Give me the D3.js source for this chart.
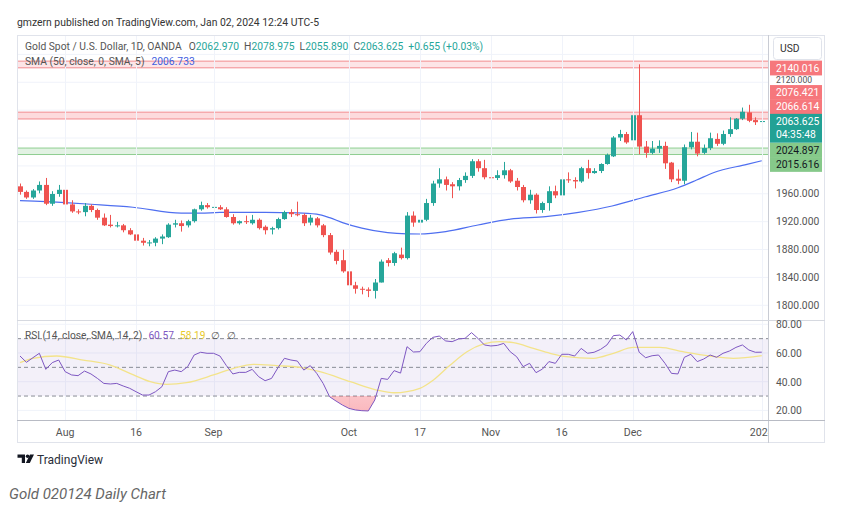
<!DOCTYPE html>
<html><head><meta charset="utf-8">
<script src="https://cdn.jsdelivr.net/npm/d3@7"></script>
<style>
body{margin:0;background:#fff;}
svg{display:block;font-family:Roboto,"Liberation Sans",sans-serif;}
</style>
</head><body>
<svg id="c" width="846" height="518"></svg>
<script>
// ---------- DATA ----------
const opens = [1970,1962,1954,1964,1972,1945,1959,1965,1944,1934,
1933,1942,1936,1925,1915,1913,1914,1907,1901,1892,
1889,1889,1895,1897,1915,1917,1914,1920,1937,1943,
1940,1940,1937,1926,1917,1920,1917,1922,1912,1908,
1910,1923,1933,1930,1929,1918,1924,1914,1900,1876,
1864,1848,1828,1823,1822,1820,1832,1864,1860,1872,
1867,1928,1918,1922,1946,1974,1980,1973,1970,1979,
1985,2006,1996,1983,1982,1986,1993,1978,1969,1950,
1958,1936,1946,1963,1957,1980,1979,1977,1996,1989,
1992,2002,2013,2040,2045,2036,2072,2027,2018,2024,
2028,2004,1981,1978,2026,2034,2018,2025,2038,2031,
2045,2052,2067,2076,2065,2062.970];
const highs = [1974,1964,1966,1977,1982,1963,1972,1968,1950,1937,
1946,1944,1938,1931,1929,1919,1916,1910,1903,1896,
1893,1897,1901,1917,1922,1921,1922,1938,1948,1946,
1952,1943,1940,1930,1921,1928,1929,1924,1914,1912,
1925,1935,1937,1948,1931,1929,1926,1916,1903,1879,
1879,1850,1833,1826,1825,1837,1865,1867,1876,1882,
1933,1934,1925,1952,1978,1996,1984,1976,1982,1990,
2009,2009,2008,1988,1993,2005,1995,1982,1972,1965,
1960,1948,1970,1971,1988,1990,1983,1998,2008,1996,
2003,2017,2042,2051,2048,2076,2145,2035,2035,2036,
2034,2005,1994,2030,2048,2047,2030,2047,2046,2050,
2069,2068,2083,2087,2069,2078.975];
const lows = [1958,1952,1952,1960,1943,1942,1955,1942,1932,1930,
1927,1933,1922,1913,1911,1911,1904,1900,1890,1885,
1884,1884,1887,1896,1911,1905,1911,1918,1935,1938,
1935,1936,1925,1915,1915,1916,1915,1908,1901,1901,
1908,1922,1926,1927,1913,1914,1911,1897,1872,1858,
1846,1827,1816,1815,1811,1809,1832,1855,1856,1865,
1865,1912,1912,1920,1942,1968,1964,1953,1964,1975,
1982,1991,1980,1970,1979,1981,1975,1964,1947,1945,
1931,1932,1935,1953,1955,1975,1967,1975,1981,1988,
1989,2001,2012,2035,2031,2030,2016,2011,2016,2018,
1995,1976,1973,1973,2023,2013,2016,2022,2028,2029,
2041,2051,2065,2062,2058,2055.890];
const closes = [1962,1954,1964,1972,1945,1959,1965,1944,1934,1933,
1942,1936,1925,1914,1913,1914,1907,1901,1892,1889,
1889.5,1895,1898,1915,1917,1913,1920,1937,1943,1940,
1940.5,1937,1926,1917,1920,1919,1922,1910,1907,1910,
1923,1933,1930,1929.5,1917,1925,1914,1900,1875,1863,
1848,1828,1823,1822,1820,1832,1862,1860,1874,1867,
1928,1918,1922,1946,1974,1980,1972,1970,1979,1985,
2006,1996,1983,1982,1986,1993,1977,1969,1950,1958,
1936,1946,1963,1957,1980,1979,1977,1996,1989,1992,
2002,2015,2040,2045,2033,2072,2027,2018,2024,2028,
2003,1980,1978,2026,2034,2017,2025,2039,2031,2045,
2052,2067,2077,2064,2062,2063.625];
const rsi = [57.9,53.5,56.7,59.8,48.6,53.3,55.1,47,44.7,44.2,
47.4,45.4,42.3,38.8,38.4,38.8,37,35.4,33,30.7,
30.7,33,36.5,47,48.1,47,50.5,58.6,60.5,59.8,
59.8,57.9,51.2,45.4,46.5,46.5,48.6,43.5,40.7,42.3,
49.8,56.3,55.1,54.4,48.1,51.2,45.8,38.8,29.5,26.5,
23.7,21.4,20.3,19.8,19.6,27.2,42.3,41.6,47.7,46,
64.4,60.7,60.9,66.7,70.9,71.8,68.4,67.9,69.8,70.2,
74.2,70.2,65.6,64.9,65.3,66.7,60.9,57.4,50.5,52.8,
46.3,48.8,54,52.8,59.1,59.1,57.9,63.2,59.8,60.5,
62.5,65.6,72.1,72.5,69.1,74.9,60.5,56.7,58.1,58.6,
52.8,45.8,45.4,57,59.1,54,55.8,58.6,57,59.8,
61.4,63.9,65.6,62.1,60.5,60.57];
// RSI-based MA, read at sample positions [bar index, value]
const rsiMaIdx = [0,2,5.7,9.8,14,17.6,20.2,22.7,25.8,30,33.1,36.2,39.8,43.4,46.5,51.2,55.3,58,62,64.1,66.7,69.3,71.9,74.4,76.5,79.6,82.2,84.7,88.9,92,95.1,99.2,102.8,107,110.6,115];
const rsiMaVal = [53.3,56.3,57.9,55.1,51.6,44.7,40,38.1,39.3,44.7,49.3,52.1,51.2,50,47,40,34.2,32.3,35.4,41.2,51.6,60.9,66.3,67.9,67.2,63.2,59.8,57.4,56.3,59.8,63.9,63.9,60.9,57.9,56.3,58.19];
// SMA 50 read at sample positions
const smaIdx = [0,7,11,17.5,25,28,31,38,43,46,48,50,53,57,60,62,66,71,76,81.5,86.6,91.8,97,102,104.9,107.5,112.7,115];
const smaVal = [1949.5,1946.6,1944.3,1940,1931.5,1931.5,1932.5,1932.5,1932,1930,1925,1918,1910,1903.5,1901.8,1901.6,1905,1914.5,1923,1926.5,1932.7,1941.8,1955,1968,1979,1989.5,2001.5,2006.733];
const priceTicks = [1800,1840,1880,1920,1960,2000,2040,2080,2120,2160];
const rsiTicks = [20,40,60,80];
const rsiBands = [70,50,30];
const timeTickIdx = [7,18,30,51,62,73,84,95,115];
const timeTickLbl = ["Aug","16","Sep","Oct","17","Nov","16","Dec","2024"];
const redBand1 = [2140.016,2149.6];
const redBand2 = [2076.421,2066.614];
const greenBand = [2024.897,2015.616];
const lastPrice = 2063.625;
const countdown = "04:35:48";

// ---------- LAYOUT ----------
const L=17, R=825, AX=768, T=35, PB=320, RB=420, B=443;
const svg = d3.select("#c");
const UP="#26a69a", DN="#ef5350", GRID="#f0f3fa", BORDER="#e0e3eb", TXT="#555";
const FS = 10.3;

const x = d3.scaleLinear().domain([0,115]).range([20,761.75]);
const y = d3.scaleLinear().domain([1778.2,2187.1]).range([PB,T]);
const yr = d3.scaleLinear().domain([13.3,83]).range([RB,PB]);

const defs = svg.append("defs");
defs.append("clipPath").attr("id","cpMain").append("rect").attr("x",L).attr("y",T).attr("width",AX-L).attr("height",PB-T);
defs.append("clipPath").attr("id","cpRsi").append("rect").attr("x",L).attr("y",PB).attr("width",AX-L).attr("height",RB-PB);
defs.append("clipPath").attr("id","cpOS").append("rect").attr("x",L).attr("y",yr(30)).attr("width",AX-L).attr("height",RB-yr(30));
defs.append("clipPath").attr("id","cpTime").append("rect").attr("x",L).attr("y",RB).attr("width",AX-L).attr("height",B-RB);
const grad = defs.append("linearGradient").attr("id","osg").attr("x1",0).attr("y1",0).attr("x2",0).attr("y2",1);
grad.append("stop").attr("offset","0%").attr("stop-color","rgba(242,54,69,0.05)");
grad.append("stop").attr("offset","100%").attr("stop-color","rgba(242,54,69,0.35)");

// header
svg.append("text").attr("x",17).attr("y",26).attr("font-size",10.4).attr("fill","#333")
  .text("gmzern published on TradingView.com, Jan 02, 2024 12:24 UTC-5");

// grid
const gMain = svg.append("g").attr("clip-path","url(#cpMain)");
gMain.selectAll(".hg").data(priceTicks).enter().append("line")
  .attr("x1",L).attr("x2",AX).attr("y1",d=>y(d)+0.5).attr("y2",d=>y(d)+0.5).attr("stroke",GRID);
svg.selectAll(".vg").data(timeTickIdx).enter().append("line")
  .attr("x1",d=>Math.round(x(d))+0.5).attr("x2",d=>Math.round(x(d))+0.5).attr("y1",T).attr("y2",RB).attr("stroke",GRID);

// bands
function band(vals, fill, stroke){
  gMain.append("rect").attr("x",L).attr("width",AX-L)
    .attr("y",y(d3.max(vals))).attr("height",y(d3.min(vals))-y(d3.max(vals))).attr("fill",fill);
  gMain.selectAll(null).data(vals).enter().append("line")
    .attr("x1",L).attr("x2",AX).attr("y1",d=>y(d)).attr("y2",d=>y(d)).attr("stroke",stroke).attr("stroke-width",1);
}
band(redBand1,"rgba(242,54,69,0.13)","#f28b8f");
band(redBand2,"rgba(242,54,69,0.18)","#f28b8f");
band(greenBand,"rgba(76,175,80,0.16)","#8fce91");

// SMA
const smaPts = smaIdx.map((d,i)=>[d,smaVal[i]]);
gMain.append("path").datum(smaPts).attr("fill","none").attr("stroke","#4f6ff0").attr("stroke-width",1.2)
  .attr("d",d3.line().x(d=>x(d[0])).y(d=>y(d[1])).curve(d3.curveMonotoneX));

// candles
const bars = opens.map((o,i)=>({i,o,h:highs[i],l:lows[i],c:closes[i]}));
const cg = gMain.selectAll(".cd").data(bars).enter().append("g");
cg.append("line").attr("x1",d=>Math.round(x(d.i))+0.5).attr("x2",d=>Math.round(x(d.i))+0.5)
  .attr("y1",d=>y(d.h)).attr("y2",d=>y(d.l)).attr("stroke",d=>d.c>=d.o?UP:DN).attr("stroke-width",1);
cg.append("rect").attr("x",d=>Math.round(x(d.i))-2).attr("width",5)
  .attr("y",d=>y(Math.max(d.o,d.c))).attr("height",d=>Math.max(1,Math.abs(y(d.o)-y(d.c))))
  .attr("fill",d=>d.c>=d.o?UP:DN);

// legend
const lg = svg.append("text").attr("x",25).attr("y",50).attr("font-size",FS).attr("fill",TXT);
lg.append("tspan").text("Gold Spot / U.S. Dollar, 1D, OANDA");
[["O","2062.970"],["H","2078.975"],["L","2055.890"],["C","2063.625"]].forEach(([k,v],j)=>{
  lg.append("tspan").attr("dx", j===0?7:5).text(k);
  lg.append("tspan").attr("fill",UP).text(v);
});
lg.append("tspan").attr("dx",5).attr("fill",UP).text("+0.655 (+0.03%)");
const sl = svg.append("text").attr("x",25).attr("y",65).attr("font-size",FS).attr("fill",TXT);
sl.append("tspan").text("SMA (50, close, 0, SMA, 5)");
sl.append("tspan").attr("dx",7).attr("fill","#3f5fe0").text("2006.733");

// ---------- RSI pane ----------
const gR = svg.append("g").attr("clip-path","url(#cpRsi)");
gR.selectAll(".rg").data(rsiTicks).enter().append("line")
  .attr("x1",L).attr("x2",AX).attr("y1",d=>yr(d)).attr("y2",d=>yr(d)).attr("stroke",GRID);
gR.append("rect").attr("x",L).attr("width",AX-L).attr("y",yr(70)).attr("height",yr(30)-yr(70))
  .attr("fill","rgba(126,87,194,0.09)");
gR.selectAll(".rb").data(rsiBands).enter().append("line")
  .attr("x1",L).attr("x2",AX).attr("y1",d=>yr(d)).attr("y2",d=>yr(d))
  .attr("stroke","#8a8d96").attr("stroke-dasharray","4,3");
gR.append("path").datum(rsi).attr("clip-path","url(#cpOS)").attr("fill","url(#osg)")
  .attr("d",d3.area().x((d,i)=>x(i)).y0(yr(30)).y1(d=>yr(d)));
const maPts = rsiMaIdx.map((d,i)=>[d,rsiMaVal[i]]);
gR.append("path").datum(maPts).attr("fill","none").attr("stroke","#f3e38a").attr("stroke-width",1.3)
  .attr("d",d3.line().x(d=>x(d[0])).y(d=>yr(d[1])).curve(d3.curveMonotoneX));
gR.append("path").datum(rsi).attr("fill","none").attr("stroke","#7e57c2").attr("stroke-width",1)
  .attr("d",d3.line().x((d,i)=>x(i)).y(d=>yr(d)));
const rl = svg.append("text").attr("x",25).attr("y",339).attr("font-size",10.2).attr("fill",TXT);
rl.append("tspan").text("RSI (14, close, SMA, 14, 2)");
rl.append("tspan").attr("dx",6).attr("fill","#7e57c2").text("60.57");
rl.append("tspan").attr("dx",6).attr("fill","#e8c92a").text("58.19");
rl.append("tspan").attr("dx",5).text("∅");
rl.append("tspan").attr("dx",7).text("∅");

// ---------- frame ----------
svg.append("rect").attr("x",L+0.5).attr("y",T+0.5).attr("width",R-L-1).attr("height",B-T-1)
  .attr("fill","none").attr("stroke",BORDER);
svg.append("line").attr("x1",AX+0.5).attr("x2",AX+0.5).attr("y1",T).attr("y2",B).attr("stroke","#c9ccd4");
svg.append("line").attr("x1",L).attr("x2",R).attr("y1",PB+0.5).attr("y2",PB+0.5).attr("stroke","#d6d9e0");
svg.append("line").attr("x1",L).attr("x2",R).attr("y1",RB+0.5).attr("y2",RB+0.5).attr("stroke","#b8bbc4");

// ---------- stacked price labels ----------
const H = 14.4;
const curTop = y(lastPrice) - H/2;
const curBot = curTop + 2*H;
const above = [redBand1[0], ...redBand2].map(v=>({v,bg:"#f6777c",fg:"#fff"})).sort((a,b)=>a.v-b.v);
let lim = curTop;
above.forEach(l=>{ l.cy = Math.min(y(l.v), lim - H/2); lim = l.cy - H/2; });
const below = greenBand.map(v=>({v,bg:"#86c98a",fg:"#131722"})).sort((a,b)=>b.v-a.v);
lim = curBot;
below.forEach(l=>{ l.cy = Math.max(y(l.v), lim + H/2); lim = l.cy + H/2; });
const allL = above.concat(below);
const boxes = allL.map(d=>[d.cy-H/2, d.cy+H/2+0.4]).concat([[curTop,curBot],[37,60]]);

// price axis ticks not hidden under a label box; a tick squeezed between two boxes is fitted into the gap
const hidden = d=>boxes.some(b=>y(d)>b[0]-1 && y(d)<b[1]+1);
const gapOf = d=>{
  const up = d3.max(boxes.filter(b=>b[1]<=y(d)), b=>b[1]);
  const dn = d3.min(boxes.filter(b=>b[0]>=y(d)), b=>b[0]);
  return (up!==undefined && dn!==undefined && dn-up<14) ? [up,dn] : null;
};
svg.selectAll(".pt").data(priceTicks.filter(d=>!hidden(d))).enter().append("text")
  .attr("x",776).attr("y",d=>{const g=gapOf(d); return g ? (g[0]+g[1])/2+3.1 : y(d)+4;})
  .attr("font-size",d=>gapOf(d)?8.6:FS).attr("fill",TXT).text(d=>d.toFixed(3));
svg.selectAll(".rt").data(rsiTicks).enter().append("text")
  .attr("x",776).attr("y",d=>yr(d)+4).attr("font-size",FS).attr("fill",TXT).text(d=>d.toFixed(2));

svg.selectAll(".lb").data(allL).enter().append("rect")
  .attr("x",770).attr("width",52).attr("y",d=>d.cy-H/2).attr("height",H+0.4).attr("fill",d=>d.bg);
svg.selectAll(".lt").data(allL).enter().append("text")
  .attr("x",776).attr("y",d=>d.cy+3.7).attr("font-size",FS).attr("fill",d=>d.fg).text(d=>d.v.toFixed(3));
svg.append("rect").attr("x",770).attr("width",52).attr("y",curTop).attr("height",2*H).attr("fill","#22a195");
svg.append("text").attr("x",776).attr("y",curTop+H/2+3.7).attr("font-size",FS).attr("fill","#fff").text(lastPrice.toFixed(3));
svg.append("text").attr("x",776).attr("y",curTop+1.5*H+3).attr("font-size",FS).attr("fill","#fff").text(countdown);

// USD box
svg.append("rect").attr("x",773.5).attr("y",37.5).attr("width",48).attr("height",22).attr("rx",3)
  .attr("fill","#fff").attr("stroke",BORDER);
svg.append("text").attr("x",780).attr("y",52).attr("font-size",FS).attr("fill","#333").text("USD");

// ---------- time axis ----------
svg.append("g").attr("clip-path","url(#cpTime)").selectAll(".tl").data(timeTickIdx).enter().append("text")
  .attr("x",d=>x(d)).attr("y",436).attr("text-anchor","middle").attr("font-size",10.6).attr("fill",TXT)
  .text((d,i)=>timeTickLbl[i]);

// ---------- footer ----------
const logo = svg.append("g").attr("fill","#131722");
logo.append("path").attr("d","M17.5,454.5 h7.5 v8.5 h-3.2 v-5.3 h-4.3 z");
logo.append("circle").attr("cx",27.6).attr("cy",456.3).attr("r",1.8);
logo.append("path").attr("d","M30,454.5 h4 l-4.2,8.5 h-4 z");
svg.append("text").attr("x",37).attr("y",463.5).attr("font-size",12).attr("fill","#2a2e39").text("TradingView");
svg.append("text").attr("x",9).attr("y",499).attr("font-size",15).attr("font-style","italic")
  .attr("fill","#666").text("Gold 020124 Daily Chart");
</script>
</body></html>
